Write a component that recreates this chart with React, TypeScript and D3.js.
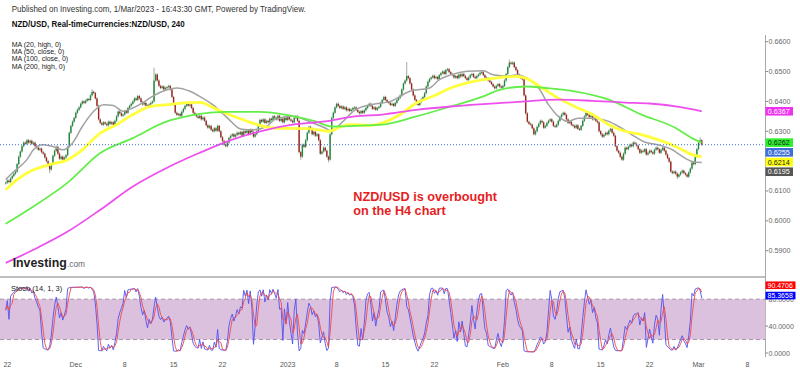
import * as d3 from "d3";
import React from "react";

// 4h closes, NZD/USD, in pips (0.6128 -> 6128)
const closes = [
  6128, 6135, 6130, 6142, 6150, 6158, 6165, 6190, 6215, 6232,
  6250, 6262, 6258, 6270, 6262, 6268, 6258, 6262, 6250, 6245,
  6238, 6242, 6230, 6225, 6212, 6200, 6185, 6172, 6190, 6218,
  6235, 6248, 6225, 6208, 6215, 6205, 6212, 6220, 6248, 6295,
  6318, 6332, 6345, 6362, 6372, 6380, 6392, 6400, 6395, 6402,
  6408, 6405, 6420, 6432, 6428, 6410, 6385, 6340, 6328, 6322,
  6330, 6325, 6320, 6332, 6325, 6330, 6322, 6335, 6350, 6366,
  6360, 6352, 6356, 6368, 6362, 6378, 6385, 6392, 6400, 6410,
  6405, 6418, 6410, 6398, 6390, 6395, 6386, 6382, 6390, 6395,
  6400, 6470, 6490, 6470, 6452, 6445, 6450, 6440, 6445, 6448,
  6452, 6440, 6415, 6390, 6362, 6355, 6358, 6352, 6365, 6375,
  6385, 6392, 6386, 6390, 6378, 6362, 6355, 6350, 6345, 6352,
  6340, 6346, 6335, 6320, 6312, 6318, 6305, 6300, 6310, 6302,
  6318, 6300, 6280, 6268, 6255, 6250, 6262, 6278, 6285, 6290,
  6282, 6288, 6295, 6290, 6298, 6285, 6300, 6295, 6302, 6290,
  6305, 6298, 6282, 6290, 6300, 6318, 6338, 6332, 6340, 6328,
  6335, 6330, 6342, 6338, 6350, 6345, 6340, 6352, 6335, 6342,
  6330, 6345, 6338, 6348, 6340, 6335, 6330, 6345, 6350, 6335,
  6230, 6215, 6255, 6248, 6270, 6295, 6315, 6308, 6290, 6298,
  6285, 6290, 6270, 6225, 6232, 6245, 6235, 6215, 6205, 6290,
  6345, 6362, 6380, 6392, 6385, 6378, 6383, 6375, 6380, 6370,
  6375, 6368, 6372, 6378, 6380, 6372, 6365, 6360, 6368, 6362,
  6370, 6378, 6385, 6392, 6385, 6375, 6380, 6372, 6378, 6382,
  6395, 6405, 6415, 6405, 6398, 6395, 6388, 6392, 6385, 6395,
  6405, 6412, 6420, 6440, 6460, 6470, 6485, 6478, 6460, 6440,
  6420, 6405, 6392, 6388, 6398, 6408, 6415, 6428, 6450, 6466,
  6475, 6480, 6486, 6478, 6482, 6475, 6488, 6495, 6500, 6492,
  6505, 6508, 6498, 6492, 6488, 6480, 6485, 6478, 6490, 6484,
  6492, 6485, 6478, 6472, 6480, 6488, 6492, 6482, 6478, 6485,
  6490, 6496, 6498, 6488, 6480, 6478, 6470, 6465, 6458, 6450,
  6444, 6452, 6458, 6450, 6446, 6452, 6470, 6492, 6515, 6530,
  6526, 6530, 6515, 6505, 6490, 6482, 6478, 6474, 6420, 6360,
  6332, 6325, 6322, 6310, 6290, 6300, 6315, 6325, 6335, 6330,
  6312, 6318, 6328, 6335, 6340, 6332, 6318, 6315, 6322, 6335,
  6348, 6356, 6362, 6355, 6340, 6328, 6332, 6322, 6318, 6312,
  6320, 6308, 6305, 6318, 6335, 6350, 6362, 6355, 6348, 6352,
  6340, 6345, 6335, 6330, 6300, 6290, 6282, 6288, 6295, 6290,
  6302, 6308, 6295, 6285, 6250, 6235, 6228, 6215, 6205, 6225,
  6245, 6240, 6248, 6255, 6250, 6262, 6258, 6252, 6240, 6228,
  6235, 6232, 6240, 6222, 6228, 6235, 6230, 6225, 6238, 6245,
  6240, 6228, 6238, 6245, 6235, 6222, 6210, 6198, 6165, 6160,
  6165, 6158, 6148, 6155, 6162, 6168, 6160, 6155, 6148, 6162,
  6175, 6195, 6190, 6215, 6240, 6262, 6270, 6255,
];
const firstOpen = 6125;

// longer wicks that stand out: [bar, price]
const wickHighs = [[53, 6440], [91, 6513], [246, 6532], [309, 6540], [426, 6280]];
const wickLows = [[27, 6160], [181, 6205], [198, 6196], [412, 6140]];

// moving averages: [bar, price in pips]
const ma20 = [
  [0, 6138], [4, 6160], [13, 6205], [17, 6238], [23, 6255], [29, 6249], [35, 6238], [41, 6261],
  [47, 6316], [54, 6367], [60, 6389], [66, 6386], [72, 6367], [78, 6378], [84, 6395], [90, 6417],
  [99, 6439], [105, 6445], [113, 6434], [119, 6417], [127, 6389], [136, 6345], [144, 6308], [152, 6305],
  [160, 6316], [165, 6339], [176, 6350], [186, 6333], [196, 6311], [200, 6300], [206, 6328], [214, 6370],
  [224, 6389], [236, 6400], [248, 6434], [260, 6445], [266, 6473], [273, 6489], [283, 6501], [293, 6503],
  [299, 6489], [308, 6484], [314, 6489], [319, 6480], [327, 6445], [333, 6389], [339, 6350], [345, 6333],
  [351, 6344], [360, 6344], [370, 6333], [376, 6316], [384, 6289], [392, 6264], [400, 6255], [409, 6238],
  [415, 6216], [421, 6199], [427, 6195],
];
const ma50 = [
  [0, 6104], [7, 6138], [17, 6171], [27, 6188], [38, 6205], [47, 6238], [58, 6294], [68, 6322],
  [78, 6356], [89, 6383], [99, 6389], [109, 6395], [119, 6397], [130, 6372], [139, 6352], [150, 6330],
  [160, 6314], [165, 6311], [186, 6309], [198, 6300], [206, 6316], [211, 6322], [224, 6320], [231, 6328],
  [242, 6356], [252, 6395], [262, 6417], [273, 6445], [283, 6462], [293, 6473], [303, 6480], [314, 6484],
  [319, 6478], [329, 6445], [339, 6411], [349, 6383], [360, 6356], [370, 6322], [380, 6300], [390, 6289],
  [400, 6272], [411, 6249], [421, 6222], [427, 6214],
];
const ma100 = [
  [0, 5990], [17, 6048], [38, 6128], [58, 6227], [78, 6277], [99, 6333], [105, 6342], [119, 6358],
  [135, 6365], [155, 6365], [177, 6350], [190, 6333], [200, 6316], [214, 6318], [231, 6322], [252, 6350],
  [273, 6383], [293, 6417], [303, 6439], [319, 6450], [331, 6445], [349, 6434], [370, 6406], [390, 6356],
  [411, 6311], [421, 6277], [427, 6262],
];
const ma200 = [
  [0, 5859], [17, 5903], [38, 5964], [58, 6037], [78, 6115], [99, 6178], [119, 6228], [139, 6272],
  [160, 6305], [176, 6322], [196, 6333], [214, 6350], [231, 6356], [252, 6372], [273, 6383], [293, 6391],
  [319, 6400], [339, 6406], [360, 6402], [380, 6396], [395, 6393], [415, 6380], [427, 6367],
];

const maNames = ["MA (20, high, 0)", "MA (50, close, 0)", "MA (100, close, 0)", "MA (200, high, 0)"];
const tickBars = [1, 43, 73, 103, 133, 173, 203, 233, 263, 305, 335, 365, 395, 425, 455];
const tickLabels = ["22", "Dec", "8", "15", "22", "2023", "8", "15", "22", "Feb", "8", "15", "22", "Mar", "8"];
const priceTicks = [0.59, 0.6, 0.61, 0.62, 0.63, 0.64, 0.65, 0.66];
const stochTicks = [0, 40, 80];

// last values shown on the price scale: MA200, MA100, price, MA50, MA20
const lastMarks = [0.6367, 0.6262, 0.6255, 0.6214, 0.6195];
const lastPrice = 0.6255;
// stochastic last values: %D, %K
const stochLast = [90.4706, 85.3658];

const markFill = ["#f032f0", "#2ef02e", "#3c6fd8", "#ffff14", "#555555"];
const markText = ["#ffffff", "#1a1a1a", "#ffffff", "#1a1a1a", "#ffffff"];

const FONT = "'Liberation Sans', Arial, sans-serif";

export default function App() {
  const W = 800;
  const H = 372;
  const axisX = 765.5;

  const xs = d3.scaleLinear().domain([0, 455]).range([5.7, 747.4]);
  const yp = d3.scaleLinear().domain([0.59, 0.66]).range([250.7, 41.7]);
  const ysto = d3.scaleLinear().domain([0, 100]).range([353, 285.7]);

  const hiMap = new Map(wickHighs.map(([i, v]) => [i, v]));
  const loMap = new Map(wickLows.map(([i, v]) => [i, v]));

  const candles = closes.map((c, i) => {
    const o = i === 0 ? firstOpen : closes[i - 1];
    const h = hiMap.get(i) ?? Math.max(o, c) + 4;
    const l = loMap.get(i) ?? Math.min(o, c) - 4;
    return { i, o: o / 1e4, c: c / 1e4, h: h / 1e4, l: l / 1e4 };
  });

  // Stoch (14, 1, 3)
  const kVals = candles.map((d, i) => {
    const win = candles.slice(Math.max(0, i - 13), i + 1);
    const hh = d3.max(win, (w) => w.h) as number;
    const ll = d3.min(win, (w) => w.l) as number;
    return hh === ll ? 50 : (100 * (d.c - ll)) / (hh - ll);
  });
  const dVals = kVals.map((_, i) => d3.mean(kVals.slice(Math.max(0, i - 2), i + 1)) as number);

  const maLine = d3
    .line<number[]>()
    .x((d) => xs(d[0]))
    .y((d) => yp(d[1] / 1e4))
    .curve(d3.curveMonotoneX);

  const stLine = d3
    .line<number>()
    .x((_, i) => xs(i))
    .y((d) => ysto(d));

  // boxes on the price scale, pushed down so they don't overlap
  const marks = lastMarks
    .map((v, i) => ({ v, y: yp(v), fill: markFill[i], text: markText[i] }))
    .sort((a, b) => a.y - b.y);
  for (let j = 1; j < marks.length; j++) {
    marks[j].y = Math.max(marks[j].y, marks[j - 1].y + 9.7);
  }

  const kY = ysto(stochLast[1]);
  const dY = Math.min(ysto(stochLast[0]), kY - 10.3);

  return (
    <svg
      width={W}
      height={H}
      style={{ position: "absolute", left: 0, top: 0, background: "#fff", fontFamily: FONT }}
    >
      <rect width={W} height={H} fill="#fff" />

      {/* header */}
      <text x={11.7} y={11.5} fontSize={8.2} fill="#333" textLength={294} lengthAdjust="spacingAndGlyphs">
        Published on Investing.com, 1/Mar/2023 - 16:43:30 GMT, Powered by TradingView.
      </text>
      <text x={11.7} y={27} fontSize={8.4} fontWeight="bold" fill="#111" textLength={173} lengthAdjust="spacingAndGlyphs">
        NZD/USD, Real-timeCurrencies:NZD/USD, 240
      </text>
      {maNames.map((t, i) => (
        <text key={t} x={11.7} y={46.5 + i * 7.4} fontSize={7} fill="#222">
          {t}
        </text>
      ))}

      {/* candles */}
      <g>
        {candles.map((d) => {
          const x = xs(d.i);
          const up = d.c >= d.o;
          const top = yp(Math.max(d.o, d.c));
          const bot = yp(Math.min(d.o, d.c));
          return (
            <g key={d.i}>
              <line x1={x} x2={x} y1={yp(d.h)} y2={yp(d.l)} stroke="#93a493" strokeWidth={0.9} />
              <rect
                x={x - 0.7}
                y={top}
                width={1.4}
                height={Math.max(1, bot - top)}
                fill={up ? "#1f8a3b" : "#a3231c"}
              />
            </g>
          );
        })}
      </g>

      {/* moving averages */}
      <path d={maLine(ma20) ?? ""} fill="none" stroke="#a2a2a2" strokeWidth={1.5} />
      <path d={maLine(ma50) ?? ""} fill="none" stroke="#ffff3c" strokeWidth={2.8} />
      <path d={maLine(ma100) ?? ""} fill="none" stroke="#64ee4a" strokeWidth={1.8} />
      <path d={maLine(ma200) ?? ""} fill="none" stroke="#ee50ee" strokeWidth={1.8} />

      {/* current price line */}
      <line x1={0} x2={axisX} y1={yp(lastPrice)} y2={yp(lastPrice)} stroke="#3f6fe0" strokeWidth={1} strokeDasharray="1,2" />

      {/* annotation */}
      <text x={353.3} y={201} fontSize={12.7} fontWeight="bold" fill="#e61e1e">
        NZD/USD is overbought
      </text>
      <text x={353.3} y={215} fontSize={12.7} fontWeight="bold" fill="#e61e1e">
        on the H4 chart
      </text>

      {/* Investing logo */}
      <text x={12.7} y={266.5} fontSize={12} fontWeight="bold" fill="#222" textLength={54} lengthAdjust="spacingAndGlyphs">
        Investing
      </text>
      <text x={67} y={266.5} fontSize={8.2} fill="#666" textLength={18} lengthAdjust="spacingAndGlyphs">
        .com
      </text>

      {/* price axis */}
      <line x1={axisX} x2={axisX} y1={35} y2={357} stroke="#a8a8a8" strokeWidth={1} />
      {priceTicks.map((p) => (
        <g key={p}>
          <line x1={axisX} x2={axisX + 2.5} y1={yp(p)} y2={yp(p)} stroke="#888" />
          <text x={768.5} y={yp(p) + 2.5} fontSize={7.2} fill="#666">
            {p.toFixed(4)}
          </text>
        </g>
      ))}
      {marks.map((m) => (
        <g key={m.v}>
          <rect x={axisX} y={m.y - 4.3} width={27.5} height={8.6} fill={m.fill} />
          <text x={767.8} y={m.y + 2.5} fontSize={7.2} fill={m.text}>
            {m.v.toFixed(4)}
          </text>
        </g>
      ))}

      {/* panel separator */}
      <line x1={0} x2={axisX} y1={277} y2={277} stroke="#aaa" strokeWidth={1.3} />

      {/* stochastic panel */}
      <rect x={0} y={ysto(80)} width={axisX} height={ysto(20) - ysto(80)} fill="#dcc1df" />
      {[20, 80].map((v) => (
        <line key={v} x1={0} x2={axisX} y1={ysto(v)} y2={ysto(v)} stroke="#a596a6" strokeWidth={1} strokeDasharray="4,3" />
      ))}
      <path d={stLine(kVals) ?? ""} fill="none" stroke="#5050f0" strokeWidth={0.9} />
      <path d={stLine(dVals) ?? ""} fill="none" stroke="#f04848" strokeWidth={0.9} />
      <text x={11} y={290.5} fontSize={7.5} fill="#222">
        Stoch (14, 1, 3)
      </text>
      {stochTicks.map((v) => (
        <g key={v}>
          <line x1={axisX} x2={axisX + 2.5} y1={ysto(v)} y2={ysto(v)} stroke="#888" />
          <text x={768.5} y={ysto(v) + 2.5} fontSize={7} fill="#666">
            {v.toFixed(4)}
          </text>
        </g>
      ))}
      <rect x={axisX} y={dY - 3.8} width={30} height={7.6} fill="#ff0000" />
      <text x={767.5} y={dY + 2.4} fontSize={7} fill="#fff">
        {stochLast[0].toFixed(4)}
      </text>
      <rect x={axisX} y={kY - 3.8} width={30} height={7.6} fill="#0000ff" />
      <text x={767.5} y={kY + 2.4} fontSize={7} fill="#fff">
        {stochLast[1].toFixed(4)}
      </text>

      {/* time axis */}
      {tickBars.map((b, i) => (
        <text key={b} x={xs(b)} y={367} fontSize={7} fill="#555" textAnchor="middle">
          {tickLabels[i]}
        </text>
      ))}
    </svg>
  );
}
